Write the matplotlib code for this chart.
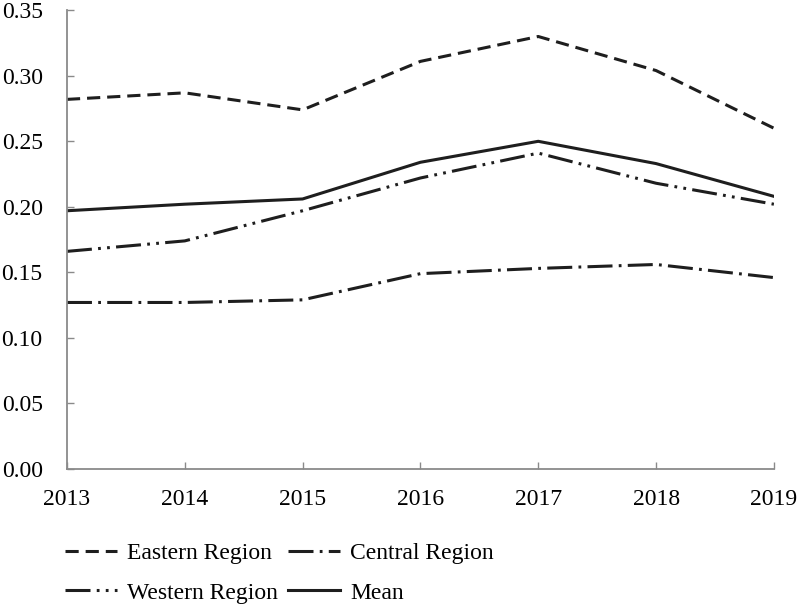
import matplotlib
matplotlib.use('Agg')
import matplotlib.pyplot as plt

# datos
years = [2013, 2014, 2015, 2016, 2017, 2018, 2019]
eastern = [0.282, 0.287, 0.274, 0.311, 0.330, 0.304, 0.260]
central = [0.127, 0.127, 0.129, 0.149, 0.153, 0.156, 0.146]
western = [0.166, 0.174, 0.197, 0.222, 0.241, 0.218, 0.202]
mean = [0.197, 0.202, 0.206, 0.234, 0.250, 0.233, 0.208]

yticks = [0.00, 0.05, 0.10, 0.15, 0.20, 0.25, 0.30, 0.35]

plt.rcParams['font.family'] = ['Liberation Serif', 'DejaVu Serif']
plt.rcParams['font.size'] = 17
plt.rcParams['lines.scale_dashes'] = False

fig = plt.figure(figsize=(7.97, 6.05), dpi=100)
ax = fig.add_axes([0.084, 0.225, 0.887, 0.758])

col = '#1e1e1e'
lw = 2.2
l_e, = ax.plot(years, eastern, color=col, lw=lw, dashes=(9.5, 5), label='Eastern Region')
l_c, = ax.plot(years, central, color=col, lw=lw, dashes=(18, 4.5, 2, 4.5), label='Central Region')
l_w, = ax.plot(years, western, color=col, lw=lw, dashes=(18, 4.5, 2, 4.5, 2, 4.5), label='Western Region')
l_m, = ax.plot(years, mean, color=col, lw=lw, label='Mean')

ax.set_xlim(years[0], years[-1])
ax.set_ylim(0, 0.35)
ax.set_xticks(years)
ax.set_yticks(yticks)
ax.set_yticklabels(['%.2f' % v for v in yticks])

for s in ['top', 'right']:
    ax.spines[s].set_visible(False)
for s in ['left', 'bottom']:
    ax.spines[s].set_color('#8a8a8a')
    ax.spines[s].set_linewidth(1.3)

ax.tick_params(direction='in', length=5, width=1, color='#8a8a8a')
ax.tick_params(axis='x', pad=14.5)
ax.tick_params(axis='y', pad=17.5)

# orden por columnas: Eastern/Western a la izquierda, Central/Mean a la derecha
leg = ax.legend([l_e, l_w, l_c, l_m],
                ['Eastern Region', 'Western Region', 'Central Region', 'Mean'],
                loc='upper left', bbox_to_anchor=(-0.033, -0.115), ncol=2,
                frameon=False, handlelength=2.2, handletextpad=0.45,
                columnspacing=0.4, labelspacing=0.75)

fig.savefig('out.png', dpi=100)
